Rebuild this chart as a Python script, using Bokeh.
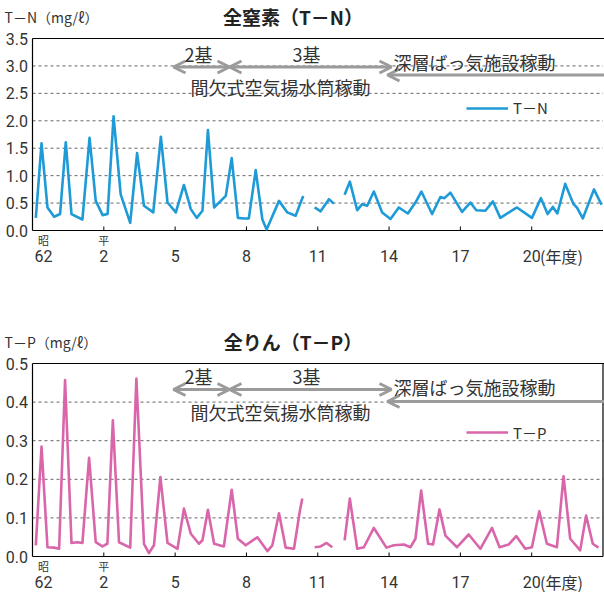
import numpy as np
from bokeh.plotting import figure
from bokeh.models import Range1d, Label, Arrow, OpenHead, Legend, LegendItem
from bokeh.layouts import column
from bokeh.embed import file_html
from bokeh.resources import INLINE

NAN = float("nan")

# ---------------- data (fiscal-year position, value) ----------------
tn_year = [1987.14, 1987.38, 1987.63, 1987.91, 1988.16, 1988.40, 1988.64, 1989.10,
           1989.40, 1989.66, 1989.95, 1990.16, 1990.41, 1990.71, 1991.11, 1991.40,
           1991.69, 1992.08, 1992.40, 1992.68, 1993.03, 1993.37, 1993.66, 1993.91,
           1994.15, 1994.38, 1994.64, 1995.13, 1995.38, 1995.64, 1995.90, 1996.10,
           1996.39, 1996.67, 1996.85, 1997.37, 1997.72, 1998.07, 1998.28, 1998.39,
           NAN,
           1998.87, 1999.12, 1999.47, 1999.68,
           NAN,
           2000.13, 2000.35, 2000.66, 2000.87, 2001.08, 2001.36, 2001.71, 2002.06,
           2002.41, 2002.79, 2003.11, 2003.36, 2003.81, 2004.16, 2004.33, 2004.58,
           2005.07, 2005.42, 2005.67, 2006.05, 2006.37, 2006.68, 2007.38, 2008.01,
           2008.39, 2008.67, 2008.89, 2009.08, 2009.41, 2009.76, 2009.90, 2010.15,
           2010.62, 2010.94]
tn_value = [0.23, 1.59, 0.42, 0.25, 0.30, 1.61, 0.30, 0.20,
            1.69, 0.54, 0.28, 0.30, 2.08, 0.66, 0.14, 1.41,
            0.45, 0.33, 1.71, 0.51, 0.33, 0.83, 0.39, 0.23,
            0.36, 1.83, 0.42, 0.63, 1.32, 0.23, 0.22, 0.22,
            1.10, 0.20, 0.02, 0.54, 0.33, 0.27, 0.51, 0.63,
            NAN,
            0.42, 0.35, 0.57, 0.49,
            NAN,
            0.65, 0.89, 0.37, 0.48, 0.45, 0.71, 0.33, 0.21,
            0.42, 0.31, 0.51, 0.71, 0.30, 0.61, 0.59, 0.69,
            0.34, 0.51, 0.37, 0.36, 0.53, 0.23, 0.42, 0.23,
            0.59, 0.30, 0.43, 0.31, 0.85, 0.48, 0.42, 0.22,
            0.75, 0.47]

tp_year = [1987.14, 1987.38, 1987.63, 1987.91, 1988.12, 1988.37, 1988.64, 1988.89,
           1989.10, 1989.38, 1989.66, 1989.94, 1990.15, 1990.38, 1990.64, 1991.11,
           1991.37, 1991.69, 1991.90, 1992.11, 1992.38, 1992.68, 1993.10, 1993.37,
           1993.66, 1994.00, 1994.15, 1994.38, 1994.64, 1995.05, 1995.38, 1995.64,
           1995.97, 1996.46, 1996.88, 1997.09, 1997.37, 1997.65, 1998.00, 1998.25,
           1998.35,
           NAN,
           1998.87, 1999.12, 1999.37, 1999.61,
           NAN,
           2000.13, 2000.35, 2000.66, 2000.94, 2001.36, 2001.89, 2002.20, 2002.62,
           2002.90, 2003.11, 2003.35, 2003.64, 2003.85, 2004.12, 2004.37, 2004.86,
           2005.35, 2005.84, 2006.33, 2006.65, 2007.03, 2007.35, 2007.73, 2008.01,
           2008.32, 2008.64, 2009.06, 2009.34, 2009.62, 2010.04, 2010.29, 2010.57,
           2010.81]
tp_value = [0.029, 0.285, 0.024, 0.023, 0.020, 0.457, 0.035, 0.037,
            0.035, 0.256, 0.037, 0.026, 0.033, 0.353, 0.037, 0.023,
            0.461, 0.033, 0.009, 0.029, 0.206, 0.035, 0.020, 0.124,
            0.059, 0.033, 0.042, 0.121, 0.033, 0.026, 0.173, 0.046,
            0.029, 0.050, 0.014, 0.029, 0.112, 0.023, 0.020, 0.119,
            0.150,
            NAN,
            0.024, 0.026, 0.035, 0.024,
            NAN,
            0.042, 0.150, 0.020, 0.024, 0.074, 0.023, 0.029, 0.031,
            0.024, 0.046, 0.171, 0.033, 0.031, 0.122, 0.054, 0.024,
            0.057, 0.020, 0.074, 0.024, 0.031, 0.053, 0.020, 0.024,
            0.117, 0.033, 0.024, 0.208, 0.046, 0.016, 0.106, 0.033,
            0.023]

tick_years = [1990, 1993, 1996, 1999, 2002, 2005, 2008]
tick_labels = ["2", "5", "8", "11", "14", "17", "20"]
first_label = "62"
tn_ticks = [0.0, 0.5, 1.0, 1.5, 2.0, 2.5, 3.0, 3.5]
tp_ticks = [0.0, 0.1, 0.2, 0.3, 0.4, 0.5]
X0, X1 = 1987.0, 2011.0

# ---------------- geometry (page pixels; the canvas starts at the page corner) ----------------
W = 604
PX_YEAR = 570.5 / 24.0   # 1987 -> x=32, 2011 -> x=602.5

JP = "Noto Sans CJK JP"
NUM = "Roboto"
TXT = "#333333"
GRAY = "#9b9b9b"
BLUE = "#1e9bd7"
PINK = "#d966aa"


def xd(px):
    return X0 + (px - 32) / PX_YEAR


def lab(p, x, y, text, size, font=JP, align="left", color=TXT, style="normal"):
    p.add_layout(Label(x=x, y=y, text=text, text_font=font, text_font_size=f"{size}px",
                       text_color=color, text_align=align, text_baseline="middle",
                       text_font_style=style))


def make_chart(canvas_top, canvas_h, ref_top, ref_bottom, ymax, ticks, right_border):
    ppu = (ref_bottom - ref_top) / ymax

    def yd(py):
        return ymax - (py - ref_top) / ppu

    p = figure(width=W, height=canvas_h, output_backend="svg", toolbar_location=None,
               title=None, min_border=0,
               x_range=Range1d(xd(0), xd(W)),
               y_range=Range1d(yd(canvas_top + canvas_h), yd(canvas_top)))
    p.axis.visible = False
    p.grid.visible = False
    p.outline_line_color = None
    p.background_fill_color = "white"
    p.border_fill_color = "white"

    # dashed grid lines between the bottom and top frame lines
    gy = ticks[1:-1]
    p.segment(x0=[X0] * len(gy), y0=gy, x1=[X1] * len(gy), y1=gy,
              line_color="#666666", line_width=1, line_dash="3 3")
    # frame: left, bottom, top (and right for the lower chart)
    fx0 = [X0, X0, X0]
    fy0 = [0, 0, ymax]
    fx1 = [X0, X1, xd(W)]
    fy1 = [ymax, 0, ymax]
    if right_border:
        fx0.append(X1); fy0.append(0); fx1.append(X1); fy1.append(ymax)
    p.segment(x0=fx0, y0=fy0, x1=fx1, y1=fy1, line_color="black", line_width=1.2)
    # inside ticks on the year axis
    tick_len = 4 / ppu
    p.segment(x0=tick_years, y0=[0] * len(tick_years), x1=tick_years,
              y1=[tick_len] * len(tick_years), line_color="black", line_width=1)

    # y tick labels
    for t in ticks:
        lab(p, xd(27.5), t, f"{t:.1f}", 16, NUM, "right")
    # x tick labels
    for yr, t in zip(tick_years, tick_labels):
        lab(p, yr, yd(ref_bottom + 25.5), t, 16, NUM, "center")
    lab(p, xd(43), yd(ref_bottom + 25.5), first_label, 16, NUM, "center")
    lab(p, xd(43), yd(ref_bottom + 9.5), "昭", 11, JP, "center")
    lab(p, tick_years[0], yd(ref_bottom + 9.5), "平", 11, JP, "center")
    lab(p, xd(539.5), yd(ref_bottom + 25.5), "(年度)", 16, JP, "left")
    return p, yd


def annotate(p, yd, arrow_py, long_py, base_py, long_text_py, low_text_py):
    head = dict(size=12, line_width=3, line_color=GRAY)
    p.add_layout(Arrow(x_start=xd(229), y_start=yd(arrow_py), x_end=xd(173), y_end=yd(arrow_py),
                       start=OpenHead(**head), end=OpenHead(**head),
                       line_color=GRAY, line_width=3))
    p.add_layout(Arrow(x_start=xd(229), y_start=yd(arrow_py), x_end=xd(391), y_end=yd(arrow_py),
                       start=OpenHead(**head), end=OpenHead(**head),
                       line_color=GRAY, line_width=3))
    p.add_layout(Arrow(x_start=xd(W), y_start=yd(long_py), x_end=xd(387), y_end=yd(long_py),
                       start=None, end=OpenHead(**head),
                       line_color=GRAY, line_width=3))
    lab(p, xd(198), yd(base_py), "2基", 18, JP, "center")
    lab(p, xd(306), yd(base_py), "3基", 18, JP, "center")
    lab(p, xd(393), yd(long_text_py), "深層ばっ気施設稼動", 18, JP, "left")
    lab(p, xd(190), yd(low_text_py), "間欠式空気揚水筒稼動", 18, JP, "left")


def add_legend(p, r, text, center_from_bottom):
    leg = Legend(items=[LegendItem(label=text, renderers=[r])],
                 location=(466, center_from_bottom - 10),
                 glyph_width=42, glyph_height=20, label_height=20, label_standoff=5,
                 padding=0, margin=0, spacing=0, border_line_color=None,
                 background_fill_alpha=0, label_text_font=JP, label_text_font_size="15px",
                 label_text_color=TXT)
    p.add_layout(leg)


# ---------------- top chart: T-N ----------------
H1 = 290
p1, yd1 = make_chart(0, H1, 38, 230, 3.5, tn_ticks, False)
r1 = p1.line(np.array(tn_year), np.array(tn_value), line_color=BLUE, line_width=2.6,
             line_join="round")
annotate(p1, yd1, 66.5, 74.5, 53, 61.7, 86.7)
lab(p1, xd(292.5), yd1(16), "全窒素（T－N）", 19, JP, "center", "#222222", "bold")
lab(p1, xd(4), yd1(16), "T－N（mg/ℓ）", 14, JP, "left")
add_legend(p1, r1, "T－N", H1 - 108.3)

# ---------------- bottom chart: T-P ----------------
H2 = 594 - H1
p2, yd2 = make_chart(H1, H2, 363, 556, 0.5, tp_ticks, True)
r2 = p2.line(np.array(tp_year), np.array(tp_value), line_color=PINK, line_width=2.6,
             line_join="round")
annotate(p2, yd2, 389, 401, 375.5, 386.7, 411.7)
lab(p2, xd(292.5), yd2(341), "全りん（T－P）", 19, JP, "center", "#222222", "bold")
lab(p2, xd(4), yd2(341), "T－P（mg/ℓ）", 14, JP, "left")
add_legend(p2, r2, "T－P", (H1 + H2) - 432.7)

layout = column(p1, p2, spacing=0)
open("out.html", "w").write(file_html(layout, INLINE))
